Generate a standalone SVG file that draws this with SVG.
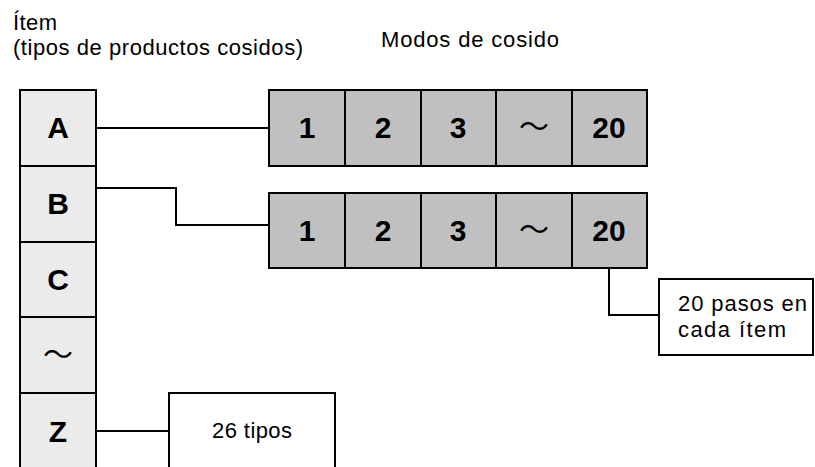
<svg xmlns="http://www.w3.org/2000/svg" width="815" height="467" viewBox="0 0 815 467">
  <style>
    .lbl { font-family: "Liberation Sans", Arial, sans-serif; font-size: 22px; fill: #000; }
    .cell-l { fill: #ebebeb; stroke: #000; stroke-width: 2; }
    .cell-m { fill: #c0c0c0; stroke: #000; stroke-width: 2; }
    .box { fill: #fff; stroke: #000; stroke-width: 2; }
    .big { font-family: "Liberation Sans", Arial, sans-serif; font-size: 30px; font-weight: bold; fill: #000; text-anchor: middle; }
    .wave { font-family: "Noto Sans CJK JP", "DejaVu Sans", sans-serif; font-size: 30px; fill: #000; text-anchor: middle; }
    .wire { fill: none; stroke: #000; stroke-width: 2; }
  </style>

  <!-- headings -->
  <text class="lbl" x="13" y="30" textLength="44" lengthAdjust="spacing">Ítem</text>
  <text class="lbl" x="13" y="55" textLength="290" lengthAdjust="spacing">(tipos de productos cosidos)</text>
  <text class="lbl" x="381" y="47" textLength="178" lengthAdjust="spacing">Modos de cosido</text>

  <!-- item column -->
  <g id="item-A">
    <rect class="cell-l" x="20" y="90" width="76" height="76"/>
    <text class="big" x="58" y="138">A</text>
  </g>
  <g id="item-B">
    <rect class="cell-l" x="20" y="166" width="76" height="76"/>
    <text class="big" x="58" y="214">B</text>
  </g>
  <g id="item-C">
    <rect class="cell-l" x="20" y="242" width="76" height="75"/>
    <text class="big" x="58" y="290">C</text>
  </g>
  <g id="item-etc">
    <rect class="cell-l" x="20" y="317" width="76" height="76"/>
    <text class="wave" x="58" y="365">～</text>
  </g>
  <g id="item-Z">
    <rect class="cell-l" x="20" y="393" width="76" height="90"/>
    <text class="big" x="58" y="442">Z</text>
  </g>

  <!-- sewing modes for item A -->
  <g id="modes-A">
    <rect class="cell-m" x="269" y="90" width="76" height="76"/>
    <rect class="cell-m" x="345" y="90" width="76" height="76"/>
    <rect class="cell-m" x="421" y="90" width="75" height="76"/>
    <rect class="cell-m" x="496" y="90" width="76" height="76"/>
    <rect class="cell-m" x="572" y="90" width="75" height="76"/>
    <text class="big" x="307" y="138">1</text>
    <text class="big" x="383" y="138">2</text>
    <text class="big" x="458" y="138">3</text>
    <text class="wave" x="534" y="137">～</text>
    <text class="big" x="609" y="138">20</text>
  </g>

  <!-- sewing modes for item B -->
  <g id="modes-B">
    <rect class="cell-m" x="269" y="193" width="76" height="75"/>
    <rect class="cell-m" x="345" y="193" width="76" height="75"/>
    <rect class="cell-m" x="421" y="193" width="75" height="75"/>
    <rect class="cell-m" x="496" y="193" width="76" height="75"/>
    <rect class="cell-m" x="572" y="193" width="75" height="75"/>
    <text class="big" x="307" y="241">1</text>
    <text class="big" x="383" y="241">2</text>
    <text class="big" x="458" y="241">3</text>
    <text class="wave" x="534" y="240">～</text>
    <text class="big" x="609" y="241">20</text>
  </g>

  <!-- callouts -->
  <g id="note-steps">
    <rect class="box" x="659" y="279" width="154" height="76"/>
    <text class="lbl" x="678" y="311" textLength="129" lengthAdjust="spacing">20 pasos en</text>
    <text class="lbl" x="678" y="337" textLength="108" lengthAdjust="spacing">cada ítem</text>
  </g>
  <g id="note-types">
    <rect class="box" x="169" y="393" width="166" height="90"/>
    <text class="lbl" x="212" y="438" textLength="80" lengthAdjust="spacing">26 tipos</text>
  </g>

  <!-- connectors -->
  <g id="connectors">
    <path class="wire" d="M96 128 H269"/>
    <path class="wire" d="M96 188 H176 V225 H269"/>
    <path class="wire" d="M609 268 V315 H659"/>
    <path class="wire" d="M96 431 H169"/>
  </g>
</svg>
